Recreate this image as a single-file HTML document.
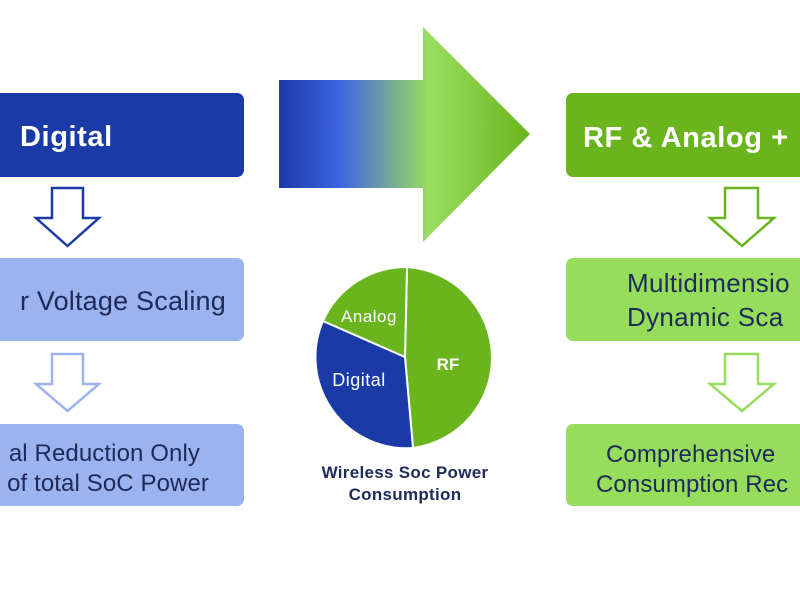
<!DOCTYPE html>
<html><head><meta charset="utf-8"><style>
html,body{margin:0;padding:0;background:#fff;width:800px;height:600px;overflow:hidden}
svg text{font-family:"Liberation Sans",sans-serif}
</style></head><body>
<svg width="800" height="600" viewBox="0 0 800 600">
<defs>
<linearGradient id="g" x1="279" y1="0" x2="530" y2="0" gradientUnits="userSpaceOnUse">
<stop offset="0" stop-color="#1b3aa8"/>
<stop offset="0.25" stop-color="#3e66e0"/>
<stop offset="0.42" stop-color="#6f9fa0"/>
<stop offset="0.6" stop-color="#9ade5e"/>
<stop offset="1" stop-color="#6ab41e"/>
</linearGradient>
</defs>
<rect x="-20" y="93" width="264" height="84" rx="7" fill="#1a3aa8"/>
<text x="20" y="146" font-size="29" font-weight="bold" fill="#fff" letter-spacing="0.6">Digital</text>
<path d="M52,188 H83 V218 H99 L67.5,246 L36,218 H52 Z" fill="#fff" stroke="#1a3aa8" stroke-width="2.5"/>
<rect x="-20" y="258" width="264" height="83" rx="7" fill="#9bb3ee"/>
<text x="226" y="310" font-size="27" fill="#1e2a5a" text-anchor="end" letter-spacing="0.2">r Voltage Scaling</text>
<path d="M52,354 H83 V384 H99 L67.5,411 L36,384 H52 Z" fill="#fff" stroke="#9bb3ee" stroke-width="2.5"/>
<rect x="-20" y="424" width="264" height="82" rx="7" fill="#9bb3ee"/>
<text x="200" y="461" font-size="24" fill="#1e2a5a" text-anchor="end" letter-spacing="0.1">al Reduction Only</text>
<text x="209" y="491" font-size="24" fill="#1e2a5a" text-anchor="end" letter-spacing="0.1">of total SoC Power</text>
<path d="M279,80 H423 V27 L530,134 L423,242 V188 H279 Z" fill="url(#g)"/>
<g stroke="#fff" stroke-width="2">
<path d="M405,357 L407,267 A91,91 0 0 1 413,448 Z" fill="#6ab41e"/>
<path d="M405,357 L413,448 A91,91 0 0 1 323,321 Z" fill="#1a3aa8"/>
<path d="M405,357 L323,321 A91,91 0 0 1 407,267 Z" fill="#6ab41e"/>
</g>
<text x="369" y="322" font-size="17" fill="#fff" text-anchor="middle" letter-spacing="0.5">Analog</text>
<text x="359" y="386" font-size="18" fill="#fff" text-anchor="middle" letter-spacing="0.5">Digital</text>
<text x="448" y="370" font-size="17" font-weight="bold" fill="#fff" text-anchor="middle">RF</text>
<text x="405" y="478" font-size="17" font-weight="bold" fill="#1e2a5a" text-anchor="middle" letter-spacing="0.3">Wireless Soc Power</text>
<text x="405" y="500" font-size="17" font-weight="bold" fill="#1e2a5a" text-anchor="middle" letter-spacing="0.3">Consumption</text>
<rect x="566" y="93" width="260" height="84" rx="7" fill="#6ab41e"/>
<text x="583" y="147" font-size="29" font-weight="bold" fill="#fff" letter-spacing="0.6">RF &amp; Analog +</text>
<path d="M725,188 H758 V218 H774 L742,246 L710,218 H725 Z" fill="#fff" stroke="#6ab41e" stroke-width="2.5"/>
<rect x="566" y="258" width="260" height="83" rx="7" fill="#97dd5c"/>
<text x="627" y="292" font-size="26" fill="#1e2a5a" letter-spacing="0.3">Multidimensio</text>
<text x="627" y="326" font-size="26" fill="#1e2a5a" letter-spacing="0.3">Dynamic Sca</text>
<path d="M725,354 H758 V384 H774 L742,411 L710,384 H725 Z" fill="#fff" stroke="#97dd5c" stroke-width="2.5"/>
<rect x="566" y="424" width="260" height="82" rx="7" fill="#97dd5c"/>
<text x="606" y="462" font-size="24" fill="#1e2a5a" letter-spacing="0.1">Comprehensive</text>
<text x="596" y="492" font-size="24" fill="#1e2a5a" letter-spacing="0.1">Consumption Rec</text>
</svg>
</body></html>
